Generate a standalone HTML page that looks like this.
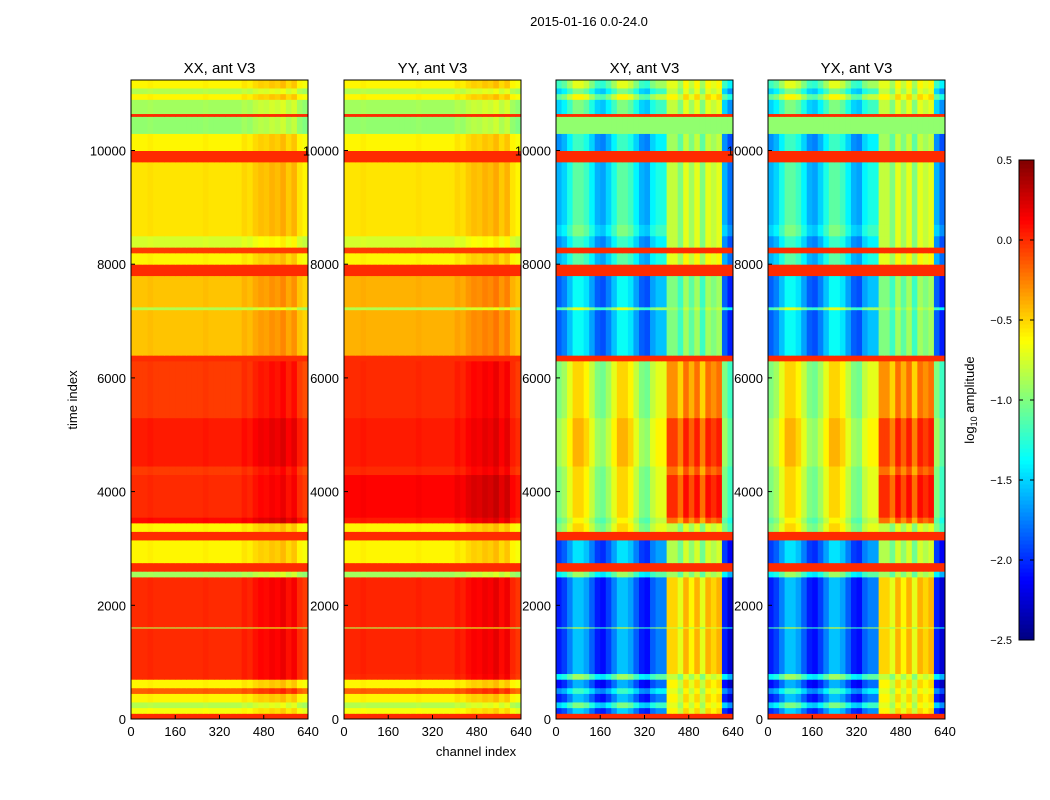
<!DOCTYPE html>
<html><head><meta charset="utf-8"><style>
body{margin:0;background:#fff;}
svg{display:block;font-family:"Liberation Sans",sans-serif;}
</style></head><body>
<svg id="fig" width="1050" height="800">
<rect width="1050" height="800" fill="#fff"/>
<text x="589" y="26" font-size="13" text-anchor="middle">2015-01-16 0.0-24.0</text>
<text x="77" y="400" font-size="13" text-anchor="middle" transform="rotate(-90 77 400)">time index</text>
<text x="476" y="756" font-size="13" text-anchor="middle">channel index</text>
<g id="panels"></g>
<g id="cbar"></g>
</svg>
<script>
const bandStart=[0,100,200,300,450,550,700,800,1600,1620,2500,2600,2750,3150,3300,3450,3550,4300,4450,5300,6300,6400,7200,7250,7800,8000,8200,8300,8500,8700,9800,10000,10300,10600,10650,10900,11000,11100];
const xxBand=[0.0,-0.65,-0.85,-0.6,-0.15,-0.6,0.0,0.0,-0.85,0.0,-0.9,0.0,-0.6,0.0,-0.6,0.1,0.0,-0.05,0.05,-0.05,0.0,-0.45,-0.85,-0.45,0.0,-0.6,-0.05,-0.75,-0.55,-0.55,0.0,-0.6,-0.95,0.0,-0.9,-0.6,-0.85,-0.6];
const yyBand=[0.0,-0.65,-0.85,-0.6,-0.15,-0.6,0.0,0.02,-0.85,0.02,-0.9,0.0,-0.6,0.0,-0.6,0.05,0.12,0.0,0.05,0.0,0.0,-0.4,-0.85,-0.4,0.0,-0.6,-0.05,-0.75,-0.55,-0.55,0.0,-0.6,-0.95,0.0,-0.9,-0.6,-0.85,-0.6];
const xyBand=[0.0,-1.9,-1.4,-1.95,-1.6,-2.0,-1.3,-1.95,-1.1,-1.95,-1.3,0.0,-1.85,0.0,-0.9,-1.0,-0.9,-0.9,-0.8,-0.9,0.0,-1.75,-1.1,-1.75,0.0,-1.5,0.0,-1.6,-1.4,-1.5,0.0,-1.6,-0.95,0.0,-1.4,-1.0,-1.4,-1.1];
const xyRight=[0.0,-0.7,-0.8,-0.7,-0.8,-0.7,-0.9,-0.6,-0.9,-0.6,-1.0,0.0,-0.95,0.0,-0.9,-0.3,-0.1,-0.3,-0.15,-0.4,0.0,-1.1,-1.0,-1.1,0.0,-0.8,0.0,-0.9,-0.9,-0.9,0.0,-1.0,-0.95,0.0,-0.9,-0.7,-0.9,-0.8];
const yxBand=xyBand.slice();
const yxRight=xyRight.slice();
const xxMix=[0,1,1,1,1,1,1,1,1,1,1,0,1,0,1,1,1,1,1,1,0,1,1,1,0,1,0,1,1,1,0,1,1,0,1,1,1,1];
const xyMix=[0,1,1,1,1,1,1,1,1,1,1,0,1,0,1,1,1,1,1,1,0,1,1,1,0,1,0,1,1,1,0,1,0,0,1,1,1,1];
const chanStart=[0,20,40,60,80,100,120,140,160,180,200,220,240,260,280,300,320,340,360,380,400,420,440,460,480,500,520,540,560,580,600,620];
const isRight=[0,0,0,0,0,0,0,0,0,0,0,0,0,0,0,0,0,0,0,0,1,1,1,1,1,1,1,1,1,1,0,0];
const xxCol=[0,0,0,0.02,0,0,0,0,0,0,0,0,0,0.02,0,0,0,0,0,0,0.05,0.02,0.08,0.12,0.1,0.15,0.12,0.18,0.08,0.15,0.0,-0.05];
const xyCol=[-0.1,0,0.2,0.4,0.4,0.3,0.1,-0.1,-0.15,0,0.2,0.4,0.4,0.3,0.1,-0.1,-0.15,0.1,0.2,0.2,0.1,0.1,-0.1,0.2,0,0.2,-0.1,0.2,0.1,0.2,-0.1,-0.3];
const xTicks=[0,160,320,480,640];
const yTicks=[0,2000,4000,6000,8000,10000];
const cbTicks=[0.5,0.0,-0.5,-1.0,-1.5,-2.0,-2.5];
const titles=["XX, ant V3","YY, ant V3","XY, ant V3","YX, ant V3"];
const bands=[xxBand,yyBand,xyBand,yxBand];
const rights=[xxBand,yyBand,xyRight,yxRight];
const cols=[xxCol,xxCol,xyCol,xyCol];
const mixes=[xxMix,xxMix,xyMix,xyMix];
const lefts=[131,344,556,768];
const W=177,TOP=80,BOT=719,TMAX=11240,CMAX=640,VMIN=-2.5,VMAX=0.5;
const NS="http://www.w3.org/2000/svg";
function jet(v){let t=(v-VMIN)/(VMAX-VMIN);t=Math.max(0,Math.min(1,t));
 const c=x=>Math.round(255*Math.max(0,Math.min(1,x)));
 return `rgb(${c(1.5-Math.abs(4*t-3))},${c(1.5-Math.abs(4*t-2))},${c(1.5-Math.abs(4*t-1))})`;}
function el(t,a,p){const e=document.createElementNS(NS,t);for(const k in a)e.setAttribute(k,a[k]);p.appendChild(e);return e;}
const yS=t=>BOT-(t/TMAX)*(BOT-TOP);
const panels=document.getElementById('panels');
for(let p=0;p<4;p++){
 const L=lefts[p];const xS=c=>L+c/CMAX*W;
 const g=el('g',{},panels);
 
 
 for(let b=0;b<bandStart.length;b++){
  const t0=bandStart[b],t1=b+1<bandStart.length?bandStart[b+1]:TMAX;
  for(let c=0;c<chanStart.length;c++){
   const c0=chanStart[c],c1=c+1<chanStart.length?chanStart[c+1]:CMAX;
   const base=isRight[c]?rights[p][b]:bands[p][b];
   const v=base+mixes[p][b]*cols[p][c];
   const r=el('rect',{x:xS(c0),y:yS(t1),width:xS(c1)-xS(c0)+0.5,height:yS(t0)-yS(t1)+0.5,fill:jet(v)},g);
   
   
  }
 }
 el('rect',{x:L,y:TOP,width:W,height:BOT-TOP,fill:'none',stroke:'#000','stroke-width':1},g);
 const tt=el('text',{x:L+W/2,y:73,'font-size':15,'text-anchor':'middle'},g);tt.textContent=titles[p];
 
 
 xTicks.forEach(v=>{const x=xS(v);el('line',{x1:x,x2:x,y1:BOT,y2:BOT-4,stroke:'#000'},g);
  const t=el('text',{x:x,y:BOT+17,'font-size':13,'text-anchor':'middle'},g);t.textContent=v;
  
  });
 yTicks.forEach(v=>{const y=yS(v);el('line',{x1:L,x2:L+4,y1:y,y2:y,stroke:'#000'},g);
  const t=el('text',{x:L-5,y:y+5,'font-size':13,'text-anchor':'end'},g);t.textContent=v;
  
  });
}
const cb=document.getElementById('cbar');


const CT=160,CB=640,CX=1019,CW=15;
const cS=v=>CB-(v-VMIN)/(VMAX-VMIN)*(CB-CT);
for(let i=0;i<120;i++){const v0=VMIN+i*(VMAX-VMIN)/120,v1=VMIN+(i+1)*(VMAX-VMIN)/120;
 el('rect',{x:CX,y:cS(v1),width:CW,height:cS(v0)-cS(v1)+0.5,fill:jet((v0+v1)/2)},cb);}
el('rect',{x:CX,y:CT,width:CW,height:CB-CT,fill:'none',stroke:'#000'},cb);
cbTicks.forEach(v=>{const y=cS(v);
 el('line',{x1:CX,x2:CX+4,y1:y,y2:y,stroke:'#000'},cb);
 el('line',{x1:CX+CW-4,x2:CX+CW,y1:y,y2:y,stroke:'#000'},cb);
 const t=el('text',{x:CX-7,y:y+4,'font-size':11,'text-anchor':'end'},cb);
 t.textContent=(v<0?'\u2212'+Math.abs(v).toFixed(1):v.toFixed(1));
 
 });
const cl=el('text',{x:974,y:400,'font-size':13,'text-anchor':'middle',transform:'rotate(-90 974 400)'},cb);
cl.innerHTML='log<tspan font-size="9" dy="3">10</tspan><tspan dy="-3"> amplitude</tspan>';


</script>
</body></html>
